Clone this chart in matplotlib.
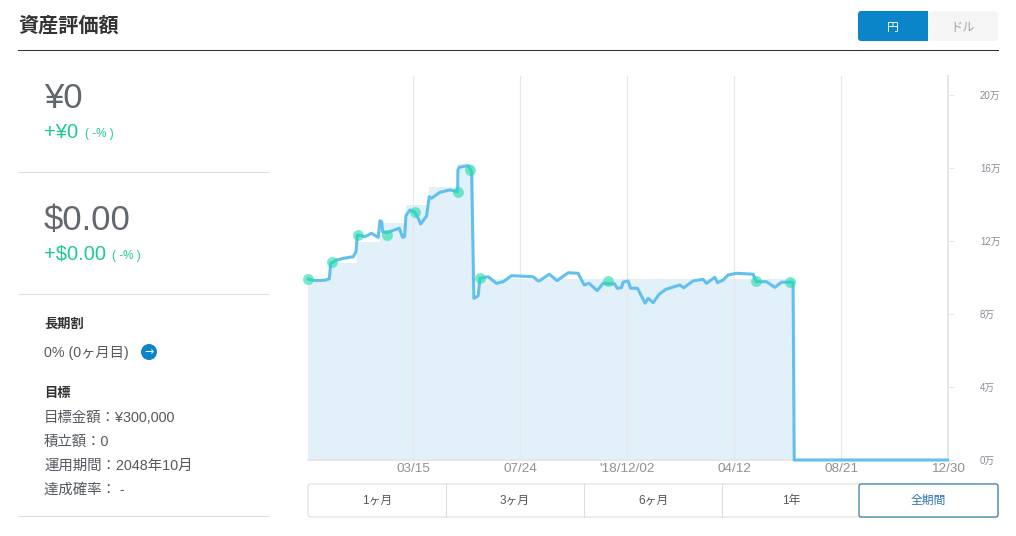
import matplotlib
matplotlib.use('Agg')
import matplotlib.pyplot as plt
from matplotlib.patches import Circle, FancyBboxPatch, Rectangle

# chart data: days since the first record, values in 10,000 yen
line_days = [0.4, 8.6, 20.8, 26.1, 27.8, 35.1, 43.2, 55.5, 58.8, 60.4, 69.8, 78, 86, 88.1, 90.2, 91.5,
             97.1, 111.8, 115.9, 118.4, 120, 124.9, 131, 135, 138, 145.3, 148.5, 151.4, 161.6, 173.8,
             183.3, 183.6, 185.2, 196.3, 200.4, 203.2, 208.5, 210.6, 220.7, 231, 239.1, 249.4, 275.8,
             281.9, 284, 295.4, 305.2, 318.7, 330.9, 338.3, 344.4, 354.2, 361.5, 375.9, 378.7, 384,
             386, 392.1, 395.1, 403.6, 413, 416.6, 422.8, 430.1, 438.3, 455.4, 460.3, 471.7, 484,
             488.1, 498.3, 501.6, 508.5, 514.6, 524.9, 545.2, 549.3, 561.6, 571.8, 580, 594.2, 595.6, 783.6]
line_values = [9.92, 9.83, 9.85, 9.93, 10.78, 10.96, 11.05, 11.14, 11.41, 12.33, 12.24, 12.42, 12.20, 13.11, 13.06, 12.51,
               12.46, 12.70, 12.20, 12.24, 13.39, 13.70, 13.57, 13.25, 12.93, 13.37, 14.43, 14.34, 14.67, 14.80,
               14.70, 15.89, 16.04, 16.13, 15.80, 8.86, 8.99, 9.96, 10.04, 9.68, 9.77, 10.10, 10.04,
               9.81, 9.83, 10.18, 9.83, 10.26, 10.23, 9.59, 9.68, 9.28, 9.68, 9.64, 9.41, 9.44,
               9.74, 9.81, 9.41, 9.41, 8.59, 8.86, 8.62, 9.08, 9.35, 9.59, 9.44, 9.81, 9.90,
               9.68, 10.01, 9.72, 9.86, 10.14, 10.23, 10.18, 9.77, 9.77, 9.46, 9.74, 9.74, 0, 0]

# invested amount, drawn as the stepped area
step_days = [0.4, 27.8, 60.4, 88.1, 120, 148.5, 183.6, 203.2, 210.6, 595.6]
step_values = [9.9, 10.78, 11.96, 12.99, 13.97, 14.98, 16.2, 8.9, 9.9, 0]

event_days = [0.4, 29, 60.8, 96.7, 130.6, 183.3, 199, 210.6, 366.9, 548.5, 591]
event_values = [9.92, 10.87, 12.33, 12.33, 13.57, 14.70, 15.89, 9.96, 9.83, 9.83, 9.75]

x_ticks = [129, 260, 391, 522, 653, 784]
x_labels = ['03/15', '07/24', "'18/12/02", '04/12', '08/21', '12/30']
y_ticks = [0, 4, 8, 12, 16, 20]
y_labels = ['0万', '4万', '8万', '12万', '16万', '20万']
range_labels = ['1ヶ月', '3ヶ月', '6ヶ月', '1年', '全期間']
goal_lines = ['目標金額：¥300,000', '積立額：0', '運用期間：2048年10月', '達成確率： -']

FONT = ['Liberation Sans', 'Noto Sans CJK JP', 'DejaVu Sans']
CJK = ['Noto Sans CJK JP', 'DejaVu Sans']
plt.rcParams['font.family'] = FONT

fig = plt.figure(figsize=(10.16, 5.36), dpi=100)

# page furniture in pixel coordinates
ui = fig.add_axes([0, 0, 1, 1])
ui.set_xlim(0, 1016)
ui.set_ylim(536, 0)
ui.axis('off')

ui.text(18, 25, '資産評価額', fontsize=14.5, fontweight='bold', color='#333333', family=CJK, va='center')
ui.plot([18, 998], [49.5, 49.5], color='#333333', lw=0.75)

ui.add_patch(FancyBboxPatch((928, 11.5), 70, 29.5, boxstyle='round,pad=0,rounding_size=3', fc='#f5f5f5', ec='none'))
ui.add_patch(FancyBboxPatch((858, 11), 70, 30, boxstyle='round,pad=0,rounding_size=3', fc='#0a85c9', ec='none'))
ui.add_patch(Rectangle((920, 11), 8, 30, fc='#0a85c9', ec='none'))
ui.text(893, 27, '円', fontsize=8.5, color='white', family=CJK, ha='center', va='center')
ui.text(963, 27, 'ドル', fontsize=8.8, color='#a5a5a5', family=CJK, ha='center', va='center')

for y in [171.5, 293.5, 515.5]:
    ui.plot([18, 268], [y, y], color='#dedede', lw=0.75)

ui.text(44, 99, '¥0', fontsize=25, color='#62676d', va='center')
ui.text(44, 132, '+¥0', fontsize=14.5, color='#1ecb8f', va='center')
ui.text(85, 134, '( -% )', fontsize=8.5, color='#1ecb8f', va='center')
ui.text(44, 221, '$0.00', fontsize=25, color='#62676d', va='center')
ui.text(44, 254, '+$0.00', fontsize=14.5, color='#1ecb8f', va='center')
ui.text(112, 256, '( -% )', fontsize=8.5, color='#1ecb8f', va='center')

ui.text(44, 324, '長期割', fontsize=9.5, fontweight='bold', color='#333333', family=CJK, va='center')
ui.text(44, 353, '0% (0ヶ月目)', fontsize=10.3, color='#555a60', va='center')
ui.add_patch(Circle((149, 352), 8, fc='#0a85c9', ec='none'))
ui.text(149, 352, '→', fontsize=8, color='white', family='DejaVu Sans', ha='center', va='center')
ui.text(44, 393, '目標', fontsize=9.5, fontweight='bold', color='#333333', family=CJK, va='center')
for y, line in zip([418, 442, 466, 490], goal_lines):
    ui.text(44, y, line, fontsize=10.4, color='#555a60', va='center')

# period buttons
ui.add_patch(FancyBboxPatch((308, 484), 690, 33, boxstyle='round,pad=0,rounding_size=3', fc='white', ec='#dddddd', lw=0.75))
for x in [446, 584, 722]:
    ui.plot([x, x], [484, 517], color='#dddddd', lw=0.75)
ui.add_patch(FancyBboxPatch((859, 484), 139, 33, boxstyle='round,pad=0,rounding_size=2', fc='white', ec='#1a6f9f', lw=0.8))
for x, label in zip([377, 515, 653, 791, 928], range_labels):
    color = '#2a6fb5' if label == '全期間' else '#555555'
    ui.text(x, 501, label, fontsize=8.5, color=color, ha='center', va='center')

# chart
ax = fig.add_axes([308 / 1016, 76 / 536, 640 / 1016, 384 / 536])
ax.patch.set_alpha(0)
ax.set_xlim(0, 783.6)
ax.set_ylim(0, 384 / 18.25)
ax.set_xticks(x_ticks)
ax.set_xticklabels(x_labels)
ax.set_yticks(y_ticks)
ax.set_yticklabels(y_labels)
ax.yaxis.tick_right()
ax.grid(axis='x', color='#e8e8e8', lw=0.9, zorder=0)
ax.tick_params(axis='x', length=0, pad=2, labelsize=9.7, labelcolor='#919191')
ax.tick_params(axis='y', length=4, width=0.8, color='#e8e8e8', pad=19, labelsize=7, labelcolor='#8a8a98')
for side in ['top', 'left']:
    ax.spines[side].set_visible(False)
for side in ['right', 'bottom']:
    ax.spines[side].set_color('#e6e6e6')
    ax.spines[side].set_linewidth(1.4)

ax.fill_between(step_days, step_values, step='post', color='#3f9be0', alpha=0.15, lw=0, zorder=1)
ax.plot(line_days, line_values, color='#62c0ee', lw=2.2, solid_joinstyle='round', clip_on=False, zorder=3)
ax.scatter(event_days, event_values, s=62, color='#1fdcaa', alpha=0.6, lw=0, clip_on=False, zorder=4)

plt.savefig('out.png', dpi=100)
